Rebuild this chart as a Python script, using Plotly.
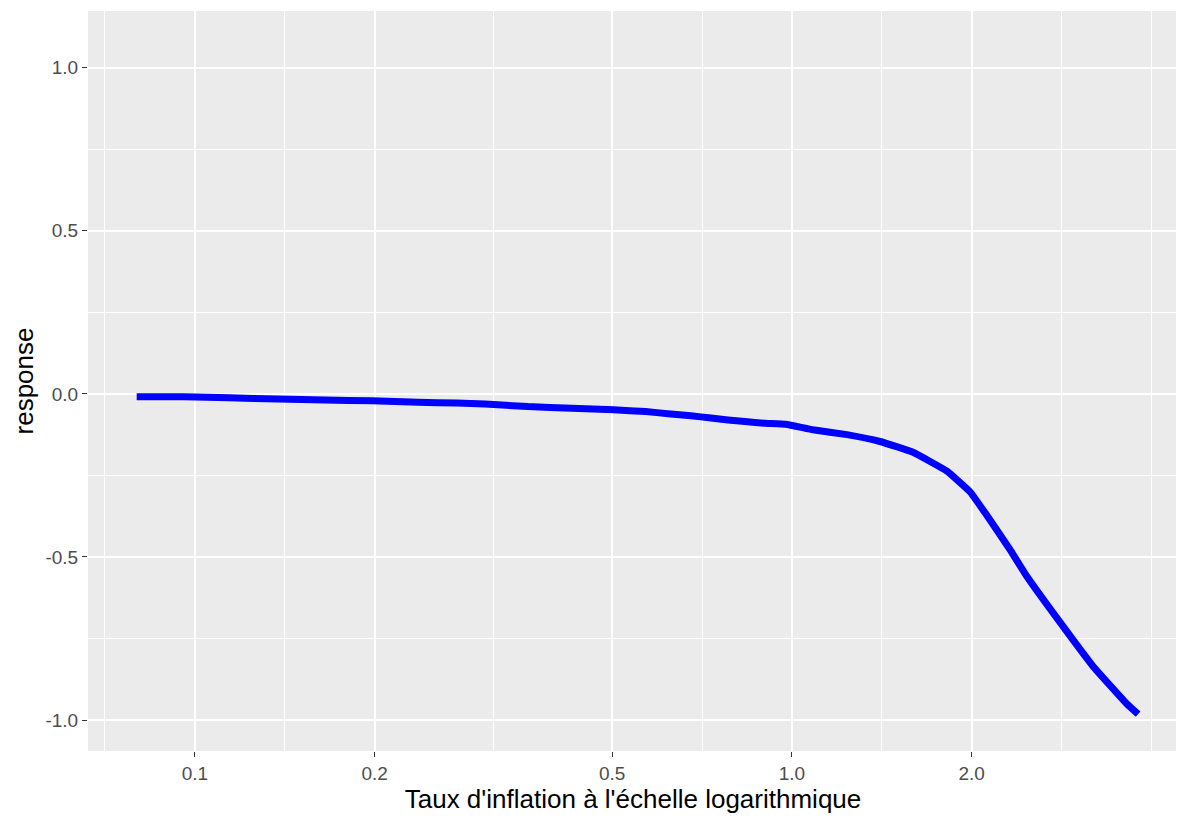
import plotly.graph_objects as go

# Taux d'inflation (échelle log) et réponse estimée
taux = [0.0799, 0.0958, 0.1144, 0.1377, 0.1651, 0.1979, 0.2363, 0.2747, 0.306,
        0.3613, 0.428, 0.503, 0.5691, 0.6198, 0.6772, 0.7318, 0.7813, 0.8344,
        0.9012, 0.977, 1.0844, 1.2364, 1.4045, 1.595, 1.818, 1.987, 2.105,
        2.318, 2.475, 2.811, 3.193, 3.64, 3.80]
response = [-0.009, -0.009, -0.012, -0.016, -0.019, -0.021, -0.026, -0.028, -0.031,
            -0.039, -0.044, -0.049, -0.054, -0.061, -0.067, -0.074, -0.080, -0.085,
            -0.090, -0.093, -0.110, -0.125, -0.146, -0.179, -0.237, -0.300, -0.364,
            -0.477, -0.560, -0.700, -0.835, -0.951, -0.982]

x_ticks = [0.1, 0.2, 0.5, 1.0, 2.0]
x_ticktext = ["0.1", "0.2", "0.5", "1.0", "2.0"]
x_minor = [0.0707, 0.1414, 0.3162, 0.7071, 1.4142, 2.8284, 4.0]
y_ticks = [-1.0, -0.5, 0.0, 0.5, 1.0]
y_ticktext = ["-1.0", "-0.5", "0.0", "0.5", "1.0"]
y_minor = [-0.75, -0.25, 0.25, 0.75]

fig = go.Figure()
fig.add_trace(go.Scatter(
    x=taux, y=response, mode="lines",
    line=dict(color="#0000FF", width=7, shape="spline", smoothing=0.3),
    showlegend=False
))

tick_font = dict(family="Liberation Sans, Arial, sans-serif", size=19, color="#4D4D4D")
title_font = dict(family="Liberation Sans, Arial, sans-serif", size=26, color="#000000")

fig.update_layout(
    width=1184, height=819,
    margin=dict(l=80, r=14, t=3, b=76),
    paper_bgcolor="white",
    plot_bgcolor="#EBEBEB",
    xaxis=dict(
        type="log",
        range=[-1.179, 0.6466],
        tickvals=x_ticks, ticktext=x_ticktext,
        tickfont=tick_font,
        ticks="outside", ticklen=5, tickwidth=1.3, tickcolor="#333333",
        showgrid=True, gridcolor="white", gridwidth=1.6,
        minor=dict(tickvals=x_minor, showgrid=True, gridcolor="white", gridwidth=0.9, ticks=""),
        zeroline=False, showline=False,
        title=dict(text="Taux d'inflation à l'échelle logarithmique", font=title_font, standoff=2),
    ),
    yaxis=dict(
        range=[-1.095, 1.174],
        tickvals=y_ticks, ticktext=y_ticktext,
        tickfont=tick_font,
        ticks="outside", ticklen=5, tickwidth=1.3, tickcolor="#333333",
        showgrid=True, gridcolor="white", gridwidth=1.6,
        minor=dict(tickvals=y_minor, showgrid=True, gridcolor="white", gridwidth=0.9, ticks=""),
        zeroline=False, showline=False,
        title=dict(text="response", font=title_font, standoff=4),
    ),
)

fig.write_html("out.html")
